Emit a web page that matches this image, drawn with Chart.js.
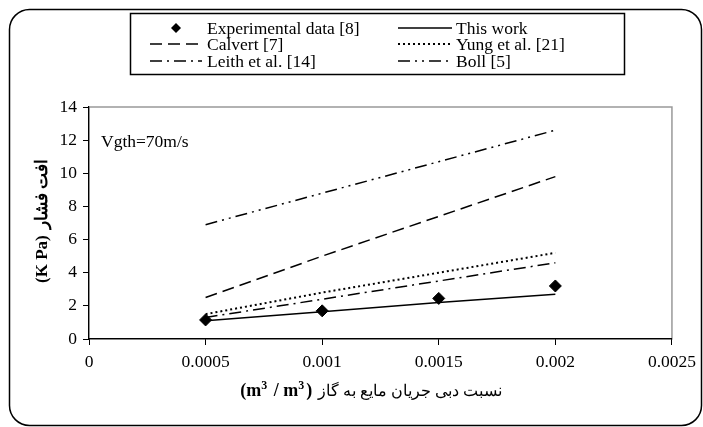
<!DOCTYPE html>
<html>
<head>
<meta charset="utf-8">
<script src="https://cdn.jsdelivr.net/npm/chart.js@4/dist/chart.umd.min.js"></script>
<style>
  html, body { margin: 0; padding: 0; background: #fff; }
  #wrap { width: 703px; height: 427px; position: relative; }
</style>
</head>
<body>
<div id="wrap"><canvas id="chart" width="703" height="427"></canvas></div>
<script>
'use strict';

// data
const xValues = [0.0005, 0.001, 0.0015, 0.002];
const experimental = [1.15, 1.7, 2.45, 3.2];
const thisWork = [1.1, 1.65, 2.2, 2.7];
const calvert = [2.5, 5.0, 7.4, 9.8];
const yung = [1.5, 2.8, 4.0, 5.2];
const leith = [1.3, 2.4, 3.5, 4.6];
const boll = [6.9, 8.8, 10.7, 12.6];

const xTicks = [0, 0.0005, 0.001, 0.0015, 0.002, 0.0025];
const xTickLabels = ['0', '0.0005', '0.001', '0.0015', '0.002', '0.0025'];
const yTicks = [0, 2, 4, 6, 8, 10, 12, 14];

const seriesNames = ['Experimental data [8]', 'This work', 'Calvert [7]', 'Yung et al. [21]', 'Leith et al. [14]', 'Boll [5]'];
const yTitleLatin = '(K Pa)';
const yTitlePersian = 'افت فشار';
// x title latin part, pieces flagged as superscript
const xTitleLatin = [['(m', false], ['3', true], [' / m', false], ['3', true], [')', false]];
const xTitlePersian = 'نسبت دبی جریان مایع به گاز';
const note = 'Vgth=70m/s';

const serif = '"Liberation Serif", "Times New Roman", "DejaVu Serif", serif';

function pts(ys) {
  return xValues.map((x, i) => ({ x: x, y: ys[i] }));
}

function lineSet(label, ys, dash, width) {
  return {
    label: label,
    data: pts(ys),
    showLine: true,
    borderColor: '#000',
    backgroundColor: '#000',
    borderWidth: width || 1.5,
    borderDash: dash,
    pointRadius: 0,
    fill: false,
    tension: 0
  };
}

const datasets = [
  {
    label: seriesNames[0],
    data: pts(experimental),
    showLine: false,
    pointStyle: 'rectRot',
    pointRadius: 6,
    pointBackgroundColor: '#000',
    pointBorderColor: '#000',
    borderColor: '#000'
  },
  lineSet(seriesNames[1], thisWork, []),
  lineSet(seriesNames[2], calvert, [12, 6]),
  lineSet(seriesNames[3], yung, [2, 3], 2),
  lineSet(seriesNames[4], leith, [12, 5, 2, 5]),
  lineSet(seriesNames[5], boll, [12, 5, 2, 5, 2, 5])
];

// frame, plot border, legend box, titles
const decor = {
  id: 'decor',
  beforeDraw(chart) {
    const ctx = chart.ctx;
    const a = chart.chartArea;
    ctx.save();
    // outer rounded frame
    ctx.strokeStyle = '#000';
    ctx.lineWidth = 1.5;
    ctx.beginPath();
    ctx.roundRect(9.5, 9.5, 692, 416, 20);
    ctx.stroke();
    // plot area border (grey top and right)
    ctx.strokeStyle = '#999';
    ctx.lineWidth = 1.5;
    ctx.strokeRect(a.left, a.top, a.right - a.left, a.bottom - a.top);
    ctx.restore();
  },
  afterDraw(chart) {
    const ctx = chart.ctx;
    ctx.save();

    // legend box
    ctx.strokeStyle = '#000';
    ctx.lineWidth = 1.5;
    ctx.strokeRect(130.5, 13.5, 494, 61);

    const cols = [{ x1: 150, x2: 202, tx: 207 }, { x1: 398, x2: 452, tx: 456 }];
    const rows = [28, 44, 61];
    ctx.font = '17.5px ' + serif;
    ctx.textBaseline = 'middle';
    ctx.textAlign = 'left';
    chart.data.datasets.forEach((ds, i) => {
      const c = cols[i % 2];
      const y = rows[Math.floor(i / 2)];
      ctx.fillStyle = '#000';
      ctx.strokeStyle = '#000';
      if (ds.showLine === false) {
        const cx = (c.x1 + c.x2) / 2;
        ctx.beginPath();
        ctx.moveTo(cx, y - 5);
        ctx.lineTo(cx + 5, y);
        ctx.lineTo(cx, y + 5);
        ctx.lineTo(cx - 5, y);
        ctx.closePath();
        ctx.fill();
      } else {
        ctx.lineWidth = ds.borderWidth;
        ctx.setLineDash(ds.borderDash);
        ctx.beginPath();
        ctx.moveTo(c.x1, y);
        ctx.lineTo(c.x2, y);
        ctx.stroke();
        ctx.setLineDash([]);
      }
      ctx.fillText(ds.label, c.tx, y + 1);
    });

    // note inside plot
    ctx.font = '17.5px ' + serif;
    ctx.fillText(note, 101, 142);

    // x title: bold latin part (with superscripts) then persian part
    ctx.textBaseline = 'alphabetic';
    const supFont = 'bold 12px ' + serif;
    const mainFont = 'bold 18px ' + serif;
    const persFont = '15.5px ' + serif;
    let w1 = 0;
    xTitleLatin.forEach(([t, sup]) => {
      ctx.font = sup ? supFont : mainFont;
      w1 += ctx.measureText(t).width + (sup ? 2 : 0);
    });
    ctx.font = persFont;
    const w2 = ctx.measureText(xTitlePersian).width;
    let sx = 371 - (w1 + 6 + w2) / 2;
    const base = 396;
    let px = sx;
    xTitleLatin.forEach(([t, sup]) => {
      ctx.font = sup ? supFont : mainFont;
      ctx.fillText(t, px, sup ? base - 7 : base);
      px += ctx.measureText(t).width + (sup ? 2 : 0);
    });
    ctx.font = persFont;
    ctx.direction = 'rtl';
    ctx.textAlign = 'right';
    ctx.fillText(xTitlePersian, sx + w1 + 6 + w2, base);

    // y title rotated
    ctx.direction = 'ltr';
    ctx.textAlign = 'left';
    ctx.translate(47, 221);
    ctx.rotate(-Math.PI / 2);
    ctx.font = 'bold 17px ' + serif;
    const v1 = ctx.measureText(yTitleLatin).width;
    const v2 = ctx.measureText(yTitlePersian).width;
    const vx = -(v1 + 6 + v2) / 2;
    ctx.fillText(yTitleLatin, vx, 0);
    ctx.direction = 'rtl';
    ctx.textAlign = 'right';
    ctx.fillText(yTitlePersian, vx + v1 + 6 + v2, 0);

    ctx.restore();
  }
};

new Chart(document.getElementById('chart'), {
  type: 'scatter',
  data: { datasets: datasets },
  options: {
    responsive: false,
    animation: false,
    devicePixelRatio: 1,
    layout: { padding: { left: 0, top: 107, right: 30, bottom: 0 } },
    plugins: {
      legend: { display: false },
      tooltip: { enabled: false }
    },
    scales: {
      x: {
        type: 'linear',
        min: 0,
        max: 0.0025,
        afterBuildTicks: (scale) => { scale.ticks = xTicks.map(v => ({ value: v })); },
        afterFit: (scale) => { scale.height = 88; },
        ticks: {
          color: '#000',
          font: { family: serif, size: 17.5 },
          padding: 7,
          maxRotation: 0,
          autoSkip: false,
          callback: (v, i) => xTickLabels[i]
        },
        grid: { drawOnChartArea: false, drawTicks: true, tickLength: 6, color: '#000' },
        border: { display: true, color: '#000', width: 1.2 }
      },
      y: {
        min: 0,
        max: 14,
        afterBuildTicks: (scale) => { scale.ticks = yTicks.map(v => ({ value: v })); },
        afterFit: (scale) => { scale.width = 89; },
        ticks: {
          color: '#000',
          font: { family: serif, size: 17.5 },
          padding: 6
        },
        grid: { drawOnChartArea: false, drawTicks: true, tickLength: 6, color: '#000' },
        border: { display: true, color: '#000', width: 1.2 }
      }
    }
  },
  plugins: [decor]
});
</script>
</body>
</html>
